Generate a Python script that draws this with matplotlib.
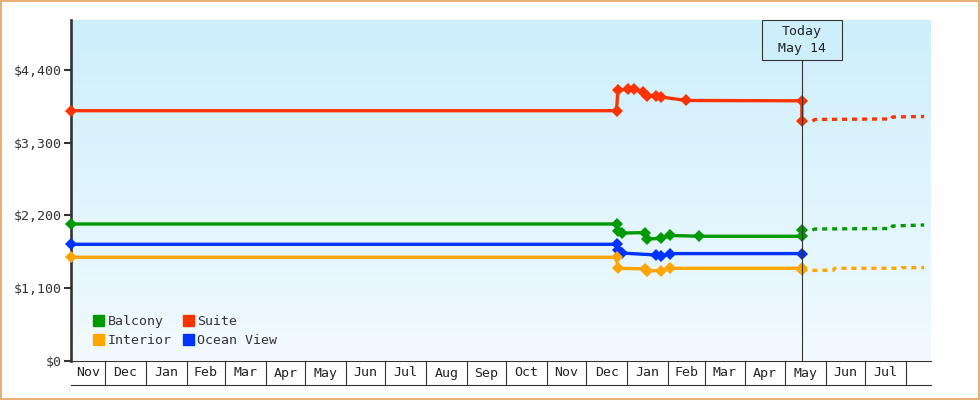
import matplotlib
matplotlib.use('Agg')
import matplotlib.pyplot as plt
import matplotlib.transforms as mtransforms
from matplotlib.patches import Patch, Rectangle
import numpy as np
import pandas as pd

plt.rcParams['font.family'] = ['DejaVu Sans Mono', 'DejaVu Sans']
plt.rcParams['font.size'] = 9.5

# ---- data ----
start_date = '2023-11-05'
end_date = '2025-08-20'
today = '2025-05-14'

suite_dates = ['2023-11-05', '2024-12-24', '2024-12-25', '2025-01-02', '2025-01-06',
               '2025-01-13', '2025-01-16', '2025-01-23', '2025-01-27', '2025-02-15',
               '2025-05-14', '2025-05-14']
suite_prices = [3790, 3790, 4100, 4119, 4115, 4078, 4020, 4020, 3998, 3945, 3940, 3629]

balcony_dates = ['2023-11-05', '2024-12-24', '2024-12-25', '2024-12-28', '2025-01-15',
                 '2025-01-16', '2025-01-27', '2025-02-03', '2025-02-25', '2025-05-14',
                 '2025-05-14']
balcony_prices = [2071, 2071, 1972, 1934, 1940, 1845, 1851, 1897, 1885, 1885, 1980]

ocean_dates = ['2023-11-05', '2024-12-24', '2024-12-25', '2024-12-28', '2025-01-23',
               '2025-01-27', '2025-02-03', '2025-05-14']
ocean_prices = [1763, 1763, 1676, 1630, 1601, 1585, 1622, 1622]

interior_dates = ['2023-11-05', '2024-12-24', '2024-12-25', '2025-01-15', '2025-01-16',
                  '2025-01-27', '2025-02-03', '2025-05-14', '2025-05-14']
interior_prices = [1566, 1566, 1399, 1390, 1360, 1365, 1399, 1399, 1380]

# forecast after today
suite_fc_dates = ['2025-05-22', '2025-05-24', '2025-07-21', '2025-07-22', '2025-08-15']
suite_fc_prices = [3634, 3657, 3665, 3695, 3702]
balcony_fc_dates = ['2025-05-22', '2025-05-24', '2025-07-21', '2025-07-22', '2025-08-15']
balcony_fc_prices = [1980, 1995, 2003, 2041, 2056]
interior_fc_dates = ['2025-05-22', '2025-06-07', '2025-06-08', '2025-07-28', '2025-07-29', '2025-08-15']
interior_fc_prices = [1368, 1371, 1399, 1400, 1408, 1410]

y_ticks = [0, 1100, 2200, 3300, 4400]
y_max = 5166

colors = {'Balcony': '#009900', 'Suite': '#ff3300',
          'Interior': '#ffa500', 'Ocean View': '#0033ff'}

# ---- figure ----
fig = plt.figure(figsize=(9.8, 4), dpi=100)
ax = fig.add_axes([71 / 980, 39.5 / 400, 859.7 / 980, 340.5 / 400])

# background gradient
grad = np.linspace(0, 1, 256).reshape(-1, 1)
top = np.array([205, 239, 252]) / 255
bot = np.array([242, 250, 255]) / 255
img = top[None, None, :] * (1 - grad[:, :, None]) + bot[None, None, :] * grad[:, :, None]
ax.imshow(img, extent=[0, 1, 0, 1], transform=ax.transAxes, aspect='auto', zorder=0)

def to_dt(d):
    return pd.to_datetime(d)

series = [('Suite', suite_dates, suite_prices),
          ('Balcony', balcony_dates, balcony_prices),
          ('Ocean View', ocean_dates, ocean_prices),
          ('Interior', interior_dates, interior_prices)]
for name, d, p in series:
    ax.plot(to_dt(d), p, color=colors[name], lw=2.4, marker='D', ms=6,
            mew=0, zorder=3, clip_on=False)

forecasts = [('Suite', suite_fc_dates, suite_fc_prices),
             ('Balcony', balcony_fc_dates, balcony_fc_prices),
             ('Interior', interior_fc_dates, interior_fc_prices)]
for name, d, p in forecasts:
    ax.plot(to_dt(d), p, color=colors[name], lw=2.4, linestyle=(0, (1.5, 1.5)), zorder=3)

xmin, xmax = to_dt(start_date), to_dt(end_date)
ax.set_xlim(xmin, xmax)
ax.set_ylim(0, y_max)

# axes styling
for s in ['top', 'right']:
    ax.spines[s].set_visible(False)
ax.spines['left'].set_linewidth(1.9)
ax.spines['left'].set_color('#333333')
ax.spines['bottom'].set_linewidth(0.8)
ax.spines['bottom'].set_color('#333333')
ax.set_yticks(y_ticks)
ax.set_yticklabels(['$' + format(v, ',') for v in y_ticks], color='#333333')
ax.tick_params(axis='y', length=5, width=1.5, color='#333333', pad=1.5)
ax.set_xticks([])

# month cells under the axis
trans = mtransforms.blended_transform_factory(ax.transData, ax.transAxes)
cell_bottom = -24.5 / 340.5
months = pd.date_range('2023-11-01', '2025-09-01', freq='MS')
for m0, m1 in zip(months[:-1], months[1:]):
    left, right = max(m0, xmin), min(m1, xmax)
    if right <= left:
        continue
    if xmin < m0 < xmax:
        ax.plot([m0, m0], [0, cell_bottom], color='#333333', lw=0.8,
                transform=trans, clip_on=False)
    if (right - left).days > 22:
        mid = left + (right - left) / 2
        ax.text(mid, -12.5 / 340.5, m0.strftime('%b'), transform=trans,
                ha='center', va='center', color='#222222')
ax.plot([xmin, xmax], [cell_bottom, cell_bottom], color='#333333', lw=0.8,
        transform=trans, clip_on=False)

# today marker
t = to_dt(today)
box_bottom = (360.5 - 60) / 340.5
ax.plot([t, t], [0, box_bottom], color='#333333', lw=0.8, transform=trans, zorder=4)
half = pd.Timedelta(days=30.4)
ax.add_patch(Rectangle((t - half, box_bottom), 2 * half, 1 - box_bottom,
                       transform=trans, facecolor='#cdeffc', edgecolor='#333333',
                       lw=0.8, zorder=4, clip_on=False))
ax.text(t, box_bottom + (1 - box_bottom) / 2, 'Today\n' + t.strftime('%b ') + str(t.day),
        transform=trans, ha='center', va='center', color='#222222',
        linespacing=1.35, zorder=5)

# legend
handles = [Patch(color=colors[n], label=n) for n in ['Balcony', 'Interior', 'Suite', 'Ocean View']]
ax.legend(handles=handles, ncol=2, loc='lower left', bbox_to_anchor=(0.0256, 0.04),
          frameon=False, borderpad=0, borderaxespad=0, handlelength=0.85,
          handleheight=0.85, handletextpad=0.25, labelspacing=0.45,
          columnspacing=0.85, labelcolor='#333333')

# outer border
fig.patches.append(Rectangle((0.001, 0.002), 0.998, 0.996, transform=fig.transFigure,
                             fill=False, edgecolor='#e6a866', lw=1.3))

fig.savefig('out.png', dpi=100)
